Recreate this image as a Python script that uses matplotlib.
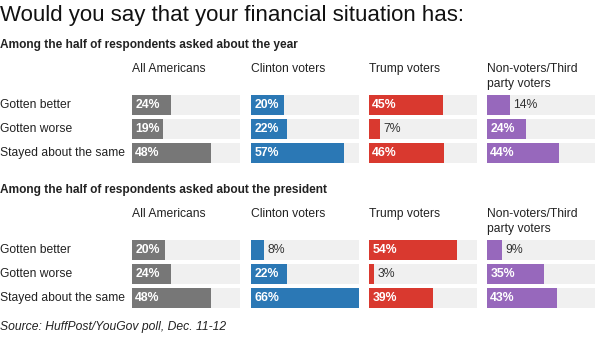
import matplotlib
matplotlib.use("Agg")
from matplotlib import pyplot as plt

plt.rcParams['font.family'] = ['Liberation Sans', 'DejaVu Sans']

# 数据
groups = ['All Americans', 'Clinton voters', 'Trump voters', 'Non-voters/Third\nparty voters']
answers = ['Gotten better', 'Gotten worse', 'Stayed about the same']
colors = ['#777777', '#2b78b5', '#d9392f', '#9768bc']

year_all = [24, 19, 48]
year_clinton = [20, 22, 57]
year_trump = [45, 7, 46]
year_other = [14, 24, 44]

pres_all = [20, 24, 48]
pres_clinton = [8, 22, 66]
pres_trump = [54, 3, 39]
pres_other = [9, 35, 43]

sections = [
    ('Among the half of respondents asked about the year',
     [year_all, year_clinton, year_trump, year_other]),
    ('Among the half of respondents asked about the president',
     [pres_all, pres_clinton, pres_trump, pres_other]),
]

W, H = 607, 340
fig = plt.figure(figsize=(W / 100, H / 100), dpi=100)

def fx(x):
    return x / W

def fy(y):
    return 1 - y / H

fig.text(fx(0), fy(16), 'Would you say that your financial situation has:',
         fontsize=16, color='#111111', va='center', ha='left')

col_x = [132, 251, 369, 487]
col_w = 108
scale_max = 66
row_step = 24

sec_top = [45, 190]      # 小标题位置
for (subtitle, values), top in zip(sections, sec_top):
    fig.text(fx(0), fy(top), subtitle, fontsize=8.6, fontweight='bold',
             color='#222222', va='center', ha='left')
    head_y = top + 18
    first_row = top + 60
    for i, lab in enumerate(answers):
        fig.text(fx(0), fy(first_row + i * row_step), lab, fontsize=8.7,
                 color='#222222', va='center', ha='left')
    for g, (name, vals, c, x0) in enumerate(zip(groups, values, colors, col_x)):
        fig.text(fx(x0), fy(head_y), name, fontsize=8.7, color='#222222',
                 va='top', ha='left', linespacing=1.3)
        ax = fig.add_axes([fx(x0), fy(first_row + 2.5 * row_step),
                           fx(col_w), 3 * row_step / H])
        ypos = range(len(vals))
        ax.barh(ypos, [scale_max] * len(vals), height=0.81, color='#f0f0f0')
        ax.barh(ypos, vals, height=0.81, color=c)
        for y, v in zip(ypos, vals):
            if v >= 15:
                ax.text(2.0, y, f'{v}%', color='white', fontweight='bold',
                        fontsize=8.8, va='center', ha='left')
            else:
                ax.text(v + 2.0, y, f'{v}%', color='#333333',
                        fontsize=8.8, va='center', ha='left')
        ax.set_xlim(0, scale_max)
        ax.set_ylim(2.5, -0.5)
        ax.axis('off')

fig.text(fx(0), fy(327), 'Source: HuffPost/YouGov poll, Dec. 11-12',
         fontsize=8.7, style='italic', color='#222222', va='center', ha='left')

fig.savefig('out.png', dpi=100)
